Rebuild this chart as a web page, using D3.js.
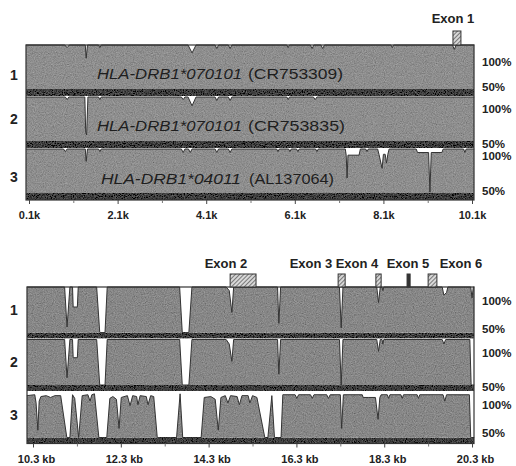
<!DOCTYPE html>
<html lang="en">
<head>
<meta charset="UTF-8"/>
<title>VISTA plot HLA-DRB1</title>
<script src="https://d3js.org/d3.v7.min.js"></script>
<style>
  body { margin: 0; background: #fff; }
  svg { display: block; font-family: Arial, "Liberation Sans", sans-serif; }
</style>
</head>
<body>
<script>
var w = 516, h = 466;

// ---- values ----
var trackIds = ["1", "2", "3"];
var geneNames = ["HLA-DRB1*070101", "HLA-DRB1*070101", "HLA-DRB1*04011"];
var accessions = ["(CR753309)", "(CR753835)", "(AL137064)"];
var pctLabels = ["100%", "50%"];

var topTicks = [0.1, 2.1, 4.1, 6.1, 8.1, 10.1];
var topTickLabels = ["0.1k", "2.1k", "4.1k", "6.1k", "8.1k", "10.1k"];
var bottomTicks = [10.3, 12.3, 14.3, 16.3, 18.3, 20.3];
var bottomTickLabels = ["10.3 kb", "12.3 kb", "14.3 kb", "16.3 kb", "18.3 kb", "20.3 kb"];

var topExonNames = ["Exon 1"];
var topExonSpans = [[9.67, 9.85]];
var bottomExonNames = ["Exon 2", "Exon 3", "Exon 4", "Exon 5", "Exon 6"];
var bottomExonSpans = [[14.79, 15.38], [17.25, 17.41], [18.11, 18.23], [18.82, 18.89], [19.30, 19.50]];

// identity (%) along the sequence, [kb, %]
var topTrack1 = [[0.03,100],[0.91,100],[0.96,97],[1.01,100],[1.37,100],[1.39,85],[1.42,100],[1.67,100],[1.70,97],[1.73,100],
  [3.69,100],[3.78,91],[3.87,100],[4.30,100],[4.34,96],[4.38,100],[4.60,100],[4.64,96],[4.68,100],[5.92,100],[5.95,97],[5.98,100],
  [6.45,100],[6.49,96],[6.53,100],[6.69,100],[6.73,96],[6.77,100],[8.27,100],[8.30,97],[8.33,100],[9.66,100],[9.70,95],[9.74,100],[10.15,100]];
var topTrack2 = [[0.03,100],[0.92,100],[0.96,97],[1.00,100],[1.36,100],[1.38,60],[1.40,57],[1.43,100],[1.67,100],[1.70,97],[1.73,100],
  [3.54,100],[3.58,97],[3.62,100],[3.69,100],[3.78,90],[3.87,100],[4.30,100],[4.34,96],[4.38,100],[4.60,100],[4.64,96],[4.68,100],
  [5.92,100],[5.95,97],[5.98,100],[6.52,100],[6.56,97],[6.60,100],[10.15,100]];
var topTrack3 = [[0.03,100],[0.88,100],[0.92,97],[0.96,100],[1.37,100],[1.39,86],[1.42,100],[1.67,100],[1.70,97],[1.73,100],
  [3.54,100],[3.58,96],[3.62,100],[3.70,100],[3.74,96],[3.78,100],[4.30,100],[4.34,96],[4.38,100],[4.60,100],[4.64,96],[4.68,100],
  [5.69,100],[5.72,97],[5.75,100],[5.96,100],[5.99,97],[6.02,100],[6.14,100],[6.17,97],[6.20,100],[6.57,100],[6.60,97],[6.63,100],
  [7.24,100],[7.26,93],[7.28,67],[7.30,93],[7.55,93],[7.58,100],[7.70,100],[7.73,97],[7.76,100],
  [7.97,100],[8.00,94],[8.07,78],[8.10,94],[8.14,94],[8.17,84],[8.20,94],[8.23,100],
  [8.84,100],[8.87,96],[9.12,96],[9.15,51],[9.18,96],[9.42,96],[9.45,100],[9.91,100],[9.94,96],[9.97,100],[10.15,100]];

var bottomTrack1 = [[10.16,100],[11.02,100],[11.075,56],[11.14,100],[11.20,100],[11.215,78],[11.31,78],[11.33,100],
  [11.75,100],[11.82,50],[11.94,50],[11.99,100],[13.64,100],[13.70,50],[13.85,50],[13.92,100],
  [14.70,100],[14.77,96],[14.83,72],[14.87,100],[15.87,100],[15.90,60],[15.94,100],[17.28,100],[17.32,55],[17.36,100],
  [18.13,100],[18.17,83],[18.21,100],[18.25,100],[18.27,96],[18.29,100],[19.62,100],[19.66,91],[19.72,94],[19.75,100],
  [20.27,100],[20.30,88],[20.33,100],[20.35,100]];
var bottomTrack2 = [[10.16,100],[11.02,100],[11.075,58],[11.14,100],[11.20,100],[11.215,80],[11.31,80],[11.33,100],
  [11.75,100],[11.82,50],[11.94,50],[11.99,100],[13.64,100],[13.70,50],[13.85,50],[13.92,100],
  [14.70,100],[14.77,95],[14.83,76],[14.87,100],[15.87,100],[15.90,62],[15.94,100],[17.28,100],[17.32,50],[17.36,100],
  [18.13,100],[18.17,87],[18.21,100],[18.25,100],[18.27,95],[18.29,100],[19.62,100],[19.66,95],[19.70,100],
  [20.25,100],[20.28,50],[20.35,50]];
var bottomTrack3 = [[10.16,96],[10.34,97],[10.37,88],[10.41,58],[10.44,90],[10.48,95],[10.60,96],[10.70,94],[10.80,96],
  [10.93,96],[11.07,50],[11.14,50],[11.20,97],[11.25,93],[11.34,50],[11.42,96],[11.55,97],[11.60,90],[11.64,97],[11.70,98],
  [11.80,50],[11.98,50],[12.05,93],[12.12,95],[12.20,92],[12.26,60],[12.31,94],[12.45,96],[12.51,85],[12.57,96],
  [12.66,95],[12.69,86],[12.74,96],[12.88,95],[12.92,86],[12.98,96],[13.05,95],[13.13,50],[13.57,50],[13.65,98],[13.71,50],
  [14.13,50],[14.20,94],[14.35,95],[14.45,92],[14.52,58],[14.58,94],[14.68,96],[14.74,88],[14.80,96],[14.95,95],[15.00,86],
  [15.06,96],[15.20,96],[15.24,88],[15.30,96],[15.40,94],[15.58,50],[15.65,50],[15.74,96],[15.80,50],[15.95,50],[15.99,97],
  [16.27,97],[16.31,93],[16.35,97],[16.62,97],[16.66,93],[16.70,97],[16.99,97],[17.03,93],[17.07,97],
  [17.30,97],[17.33,60],[17.37,97],[17.80,97],[17.82,94],[17.95,94],[18.10,94],[18.16,70],[18.20,94],[18.23,97],
  [18.37,97],[18.40,93],[18.43,97],[18.68,97],[18.71,93],[18.74,97],[19.05,97],[19.08,93],[19.11,97],
  [19.64,97],[19.68,90],[19.72,97],[20.24,97],[20.27,50],[20.35,50]];

// ---- layout ----
var panels = [
  { domain: [0.032, 10.145], x0: 26, x1: 474, tops: [45, 97, 149], th: 44, band: 7,
    ticks: topTicks, tickLabels: topTickLabels, tracks: [topTrack1, topTrack2, topTrack3],
    exonNames: topExonNames, exonSpans: topExonSpans, exonBox: [31, 45], exonLabelX: [453], exonLabelY: 23,
    pctY: [[62, 87], [109, 144], [156, 191]], idY: [75, 119, 177], withNames: true, tickPad: 7, fill: "#8d8d8d" },
  { domain: [10.163, 20.345], x0: 27, x1: 474, tops: [287, 339.5, 392], th: 45.5, band: 6,
    ticks: bottomTicks, tickLabels: bottomTickLabels, tracks: [bottomTrack1, bottomTrack2, bottomTrack3],
    exonNames: bottomExonNames, exonSpans: bottomExonSpans, exonBox: [274, 287], exonLabelX: [226, 311, 357, 408, 461], exonLabelY: 268,
    pctY: [[301, 329], [353, 387], [405, 433]], idY: [310, 362, 415], withNames: false, tickPad: 7.5, fill: "#868686" }
];
var nameLayout = [
  { x: 97, y: 79, w1: 145, x2: 248, w2: 95 },
  { x: 97, y: 131, w1: 145, x2: 248, w2: 97 },
  { x: 101, y: 184, w1: 140, x2: 249, w2: 85 }
];

var svg = d3.select("body").append("svg")
  .attr("width", w)
  .attr("height", h);

var defs = svg.append("defs");
var hatch = defs.append("pattern")
  .attr("id", "hatch")
  .attr("patternUnits", "userSpaceOnUse")
  .attr("width", 3).attr("height", 3)
  .attr("patternTransform", "rotate(45)");
hatch.append("rect").attr("width", 3).attr("height", 3).attr("fill", "#d8d8d8");
hatch.append("line").attr("x1", 0).attr("y1", 0).attr("x2", 0).attr("y2", 3)
  .attr("stroke", "#444").attr("stroke-width", 1.3);

// scanned-paper grain on the grey fills
var grain = defs.append("filter").attr("id", "grain")
  .attr("x", 0).attr("y", 0).attr("width", "100%").attr("height", "100%");
grain.append("feTurbulence").attr("type", "fractalNoise").attr("baseFrequency", 0.9)
  .attr("numOctaves", 2).attr("seed", 4).attr("result", "noise");
grain.append("feColorMatrix").attr("in", "noise").attr("type", "matrix")
  .attr("values", "0.33 0.33 0.33 0 0  0.33 0.33 0.33 0 0  0.33 0.33 0.33 0 0  0 0 0 0 1")
  .attr("result", "gray");
grain.append("feComposite").attr("in", "SourceGraphic").attr("in2", "gray")
  .attr("operator", "arithmetic").attr("k1", 0).attr("k2", 1).attr("k3", 0.45).attr("k4", -0.22)
  .attr("result", "mix");
grain.append("feComposite").attr("in", "mix").attr("in2", "SourceGraphic").attr("operator", "in");

panels.forEach(function(p) {
  var xScale = d3.scaleLinear().domain(p.domain).range([p.x0, p.x1]);
  var g = svg.append("g");

  p.tracks.forEach(function(track, i) {
    var top = p.tops[i];
    var yScale = d3.scaleLinear().domain([50, 100]).range([top + p.th, top]).clamp(true);

    var area = d3.area()
      .x(function(d) { return xScale(d[0]); })
      .y0(top + p.th)
      .y1(function(d) { return yScale(d[1]); });
    var line = d3.line()
      .x(function(d) { return xScale(d[0]); })
      .y(function(d) { return yScale(d[1]); });

    g.append("path")
      .datum(track)
      .attr("d", area)
      .attr("fill", p.fill)
      .attr("filter", "url(#grain)");
    g.append("path")
      .datum(track)
      .attr("d", line)
      .attr("fill", "none")
      .attr("stroke", "#333")
      .attr("stroke-width", 1);

    // dark 50% baseline band
    g.append("rect")
      .attr("x", p.x0).attr("y", top + p.th)
      .attr("width", p.x1 - p.x0).attr("height", p.band)
      .attr("fill", "#3c3c3c")
      .attr("filter", "url(#grain)");

    // track number
    g.append("text")
      .attr("x", 14).attr("y", p.idY[i]).attr("dy", "0.35em")
      .attr("text-anchor", "middle")
      .attr("font-weight", "bold").attr("font-size", 14)
      .attr("fill", "#222")
      .text(trackIds[i]);

    // 100% / 50% labels
    pctLabels.forEach(function(lab, j) {
      g.append("text")
        .attr("x", 482).attr("y", p.pctY[i][j]).attr("dy", "0.35em")
        .attr("font-weight", "bold").attr("font-size", 11.5)
        .attr("fill", "#222")
        .text(lab);
    });

    if (p.withNames) {
      var nl = nameLayout[i];
      g.append("text")
        .attr("x", nl.x).attr("y", nl.y)
        .attr("font-size", 15).attr("font-style", "italic")
        .attr("fill", "#1e1e1e")
        .attr("textLength", nl.w1).attr("lengthAdjust", "spacingAndGlyphs")
        .text(geneNames[i]);
      g.append("text")
        .attr("x", nl.x2).attr("y", nl.y)
        .attr("font-size", 15)
        .attr("fill", "#1e1e1e")
        .attr("textLength", nl.w2).attr("lengthAdjust", "spacingAndGlyphs")
        .text(accessions[i]);
    }
  });

  var last = p.tops[p.tops.length - 1] + p.th + p.band;
  // panel frame
  g.append("rect")
    .attr("x", p.x0).attr("y", p.tops[0])
    .attr("width", p.x1 - p.x0).attr("height", last - p.tops[0])
    .attr("fill", "none").attr("stroke", "#333").attr("stroke-width", 1.2);

  // exon boxes and labels (very short exons show as a solid bar)
  p.exonSpans.forEach(function(s, i) {
    var bw = xScale(s[1]) - xScale(s[0]);
    g.append("rect")
      .attr("x", xScale(s[0])).attr("y", p.exonBox[0])
      .attr("width", Math.max(2.5, bw))
      .attr("height", p.exonBox[1] - p.exonBox[0])
      .attr("fill", bw < 4 ? "#333" : "url(#hatch)")
      .attr("stroke", "#333").attr("stroke-width", 1);
    g.append("text")
      .attr("x", p.exonLabelX[i]).attr("y", p.exonLabelY)
      .attr("text-anchor", "middle")
      .attr("font-weight", "bold").attr("font-size", 13)
      .attr("fill", "#222")
      .text(p.exonNames[i]);
  });

  // x axis
  var axis = d3.axisBottom(xScale)
    .tickValues(p.ticks)
    .tickFormat(function(d, i) { return p.tickLabels[i]; })
    .tickSize(4)
    .tickPadding(p.tickPad);
  var ax = g.append("g").attr("transform", "translate(0," + last + ")").call(axis);
  ax.select(".domain").remove();
  ax.selectAll("line").attr("stroke", "#444");
  ax.selectAll("text")
    .attr("font-family", "Arial, 'Liberation Sans', sans-serif")
    .attr("font-weight", "bold").attr("font-size", 11)
    .attr("fill", "#222")
    .attr("dx", p.withNames ? 0 : 3);

  var minor = d3.pairs(p.ticks).map(function(t) { return (t[0] + t[1]) / 2; });
  var minAx = g.append("g").attr("transform", "translate(0," + last + ")")
    .call(d3.axisBottom(xScale).tickValues(minor).tickSize(3).tickFormat(""));
  minAx.select(".domain").remove();
  minAx.selectAll("line").attr("stroke", "#777");
});
</script>
</body>
</html>
